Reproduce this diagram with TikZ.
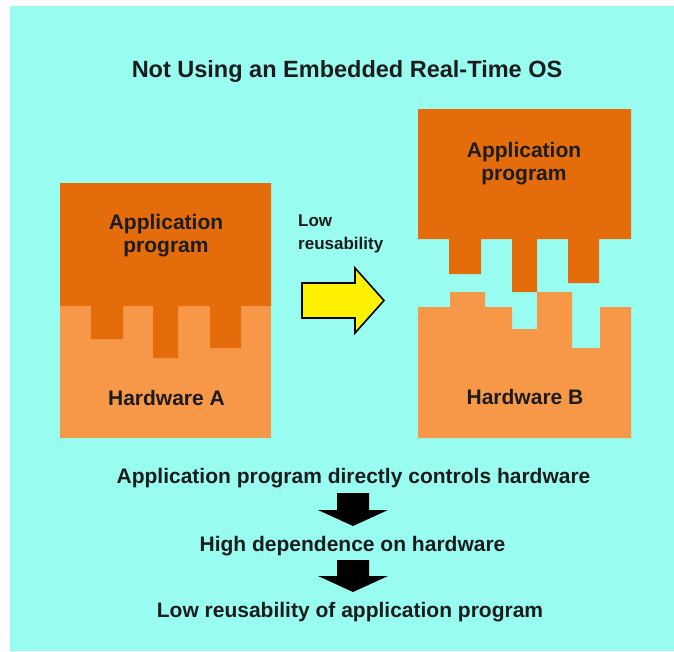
\documentclass[tikz,border=0pt]{standalone}
\usepackage{fontspec}
\setmainfont{Liberation Sans}
\definecolor{bgcyan}{RGB}{152,253,240}
\definecolor{darkor}{RGB}{228,108,10}
\definecolor{lightor}{RGB}{246,152,72}
\definecolor{txt}{RGB}{28,28,28}
\tikzset{
  lbl/.style={font=\bfseries\fontsize{21}{23}\selectfont, text=txt, inner sep=0pt, align=center},
  ttl/.style={font=\bfseries\fontsize{23.5}{26}\selectfont, text=txt, inner sep=0pt},
  small/.style={font=\bfseries\fontsize{17}{23}\selectfont, text=txt, inner sep=0pt, align=left},
  dark/.style={fill=darkor, draw=none},
  light/.style={fill=lightor, draw=none},
  yarrow/.style={fill=yellow, draw=black, line width=1.6pt, line join=miter},
  barrow/.style={fill=black, draw=none}
}
\begin{document}
\begin{tikzpicture}[x=1pt,y=-1pt]
\useasboundingbox (0,0) rectangle (674,651);
\fill[white] (0,0) rectangle (674,651);
\fill[bgcyan] (10,6) rectangle (674,651);

% title
\node[ttl, anchor=base] (title) at (347,77) {Not Using an Embedded Real-Time OS};

% left block: hardware A with application program
\fill[light] (60,306) rectangle (271,438);
\fill[dark] (60,183) -- (271,183) -- (271,306) -- (241,306) -- (241,348) -- (210,348) -- (210,306)
  -- (178,306) -- (178,358) -- (153,358) -- (153,306) -- (123,306) -- (123,339) -- (91,339)
  -- (91,306) -- (60,306) -- cycle;
\node[lbl] (appA) at (166,236) {Application\\program};
\node[lbl, anchor=base] (hwA) at (166.5,405) {Hardware A};

% right block: application program
\fill[dark] (418,109) -- (631,109) -- (631,239) -- (599,239) -- (599,283) -- (568,283) -- (568,239)
  -- (537,239) -- (537,292) -- (512,292) -- (512,239) -- (481,239) -- (481,274) -- (449,274)
  -- (449,239) -- (418,239) -- cycle;
\node[lbl] (appB) at (524,163.5) {Application\\program};

% right block: hardware B
\fill[light] (418,307) -- (450,307) -- (450,292) -- (485,292) -- (485,307) -- (512,307) -- (512,329)
  -- (537,329) -- (537,292) -- (572,292) -- (572,348) -- (600,348) -- (600,307) -- (631,307)
  -- (631,438) -- (418,438) -- cycle;
\node[lbl, anchor=base] (hwB) at (525,404) {Hardware B};

% low reusability arrow
\node[small, anchor=north west] (lowreu) at (298,214.5) {Low\\reusability};
\draw[yarrow] (302,283) -- (355,283) -- (355,268) -- (384,300.5) -- (355,333) -- (355,318) -- (302,318) -- cycle;

% bottom chain
\node[lbl, anchor=base] (s1) at (353.5,483) {Application program directly controls hardware};
\node[lbl, anchor=base] (s2) at (352.5,551) {High dependence on hardware};
\node[lbl, anchor=base] (s3) at (350,617) {Low reusability of application program};

\fill[barrow] (337,493) -- (369,493) -- (369,510) -- (388,510) -- (353,526) -- (318,510) -- (337,510) -- cycle;
\fill[barrow] (337,560) -- (369,560) -- (369,576) -- (388,576) -- (353,592) -- (318,576) -- (337,576) -- cycle;
\end{tikzpicture}
\end{document}
